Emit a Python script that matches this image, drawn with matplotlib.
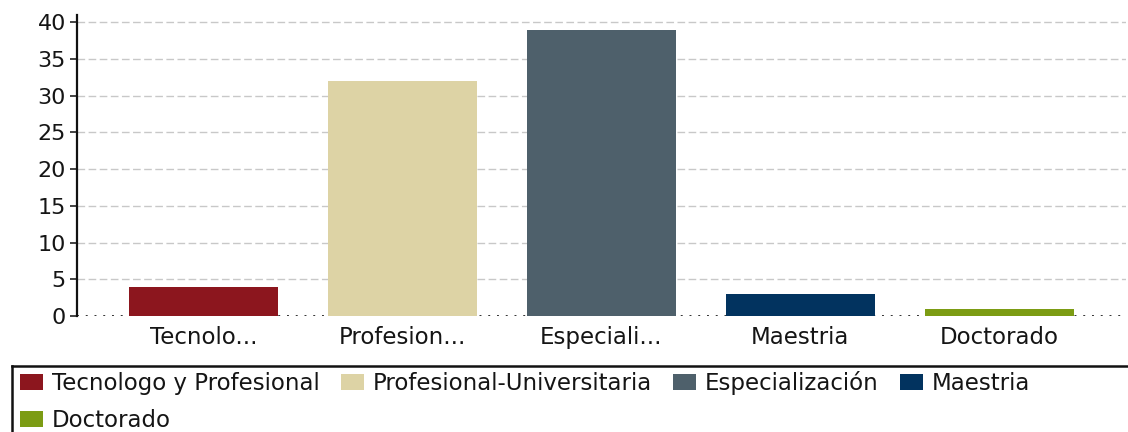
import matplotlib
matplotlib.use("Agg")
import matplotlib.pyplot as plt
from matplotlib.patches import Patch
from matplotlib.lines import Line2D
import numpy as np

# Data
categories = ["Tecnologo y Profesional", "Profesional-Universitaria",
              "Especialización", "Maestria", "Doctorado"]
tick_labels = ["Tecnolo...", "Profesion...", "Especiali...", "Maestria", "Doctorado"]
values = [4, 32, 39, 3, 1]
colors = ["#8C161E", "#DDD3A5", "#4E606B", "#02335F", "#7C9C14"]
y_ticks = [0, 5, 10, 15, 20, 25, 30, 35, 40]

plt.rcParams["font.family"] = ["DejaVu Sans"]
FS = 16.5
TXT = "#151515"

W, H = 1128, 432
fig = plt.figure(figsize=(W / 100, H / 100), dpi=100)
ax = fig.add_axes([77 / W, 1 - 316 / H, (1126 - 77) / W, (316 - 15) / H])

x = np.arange(len(categories))
ax.bar(x, values, width=0.752, color=colors, zorder=3)

ax.set_xlim(-0.637, len(categories) - 1 + 0.637)
ax.set_ylim(0, 41)
ax.set_yticks(y_ticks)
ax.set_yticklabels([str(v) for v in y_ticks], fontsize=FS - 0.5, color=TXT)
ax.set_xticks(x)
ax.set_xticklabels(tick_labels, fontsize=FS, color=TXT)
ax.tick_params(axis="x", length=0, pad=7)
ax.tick_params(axis="y", length=5, width=1.2, color="#222222", pad=3)

# dashed horizontal grid
for v in y_ticks[1:]:
    ax.axhline(v, color="#c8c8c8", lw=1.0, dashes=(5.5, 2.5), zorder=1)

# dotted baseline at zero
ax.axhline(0, color="#333333", lw=1.4, linestyle=(0, (1, 3.5)), zorder=2)

for s in ["top", "right", "bottom"]:
    ax.spines[s].set_visible(False)
ax.spines["left"].set_linewidth(1.6)
ax.spines["left"].set_color("#111111")

# legend: Doctorado placed second so it wraps under the first column
order = [0, 4, 1, 2, 3]
handles = [Patch(facecolor=colors[i], edgecolor="none") for i in order]
labels = [categories[i] for i in order]
px = FS * 100 / 72
leg = fig.legend(handles, labels, ncol=4, frameon=False, fontsize=FS,
                 loc="upper left", bbox_to_anchor=(20 / W, 1 - 371 / H),
                 borderpad=0, borderaxespad=0,
                 handlelength=23 / px, handleheight=16 / px,
                 handletextpad=9 / px, columnspacing=21 / px,
                 labelspacing=0.62)
for t in leg.get_texts():
    t.set_color(TXT)

# legend box border (open on the right and bottom edges of the figure)
fig.add_artist(Line2D([12 / W, 1.0], [1 - 366 / H, 1 - 366 / H],
                      transform=fig.transFigure, color="#111111", lw=1.8))
fig.add_artist(Line2D([12 / W, 12 / W], [1 - 366 / H, 0],
                      transform=fig.transFigure, color="#111111", lw=1.8))

fig.savefig("out.png", dpi=100)
